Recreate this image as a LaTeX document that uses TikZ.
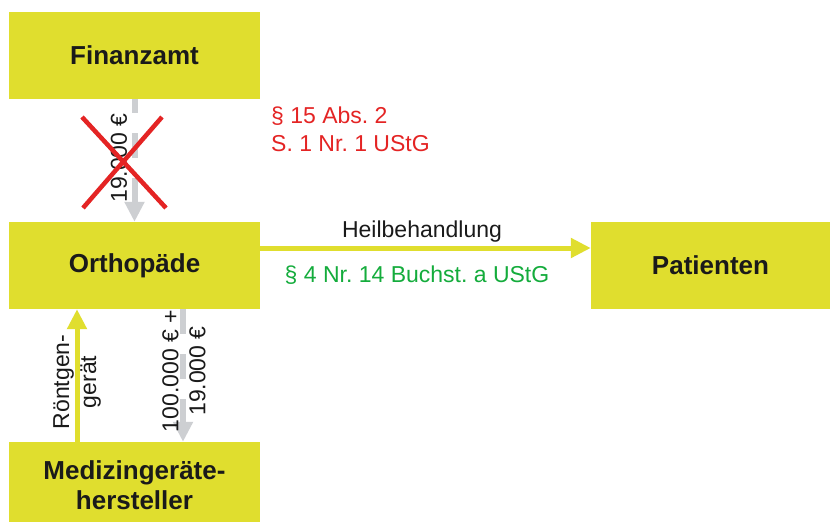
\documentclass[tikz,border=0pt]{standalone}
\usepackage{fontspec}
\setmainfont{Liberation Sans}
\usetikzlibrary{arrows.meta}
\frenchspacing
\definecolor{boxy}{RGB}{224,222,46}
\definecolor{arrgray}{RGB}{205,207,210}
\definecolor{lawred}{RGB}{228,36,36}
\definecolor{lawgreen}{RGB}{20,172,60}
\definecolor{txt}{RGB}{26,26,26}
\tikzset{
  party/.style={fill=boxy, draw=none, minimum width=251pt, minimum height=87pt, inner sep=0pt,
    font=\fontsize{26}{30}\selectfont\bfseries, text=txt, align=center},
  goods/.style={draw=boxy, line width=5pt, -{Triangle[length=20pt,width=19pt]}},
  money/.style={draw=arrgray, line width=6pt, dash pattern=on 25pt off 20pt, -{Triangle[length=20pt,width=19pt]}},
  lbl/.style={font=\fontsize{23}{27}\selectfont, text=txt, inner sep=0pt, align=center},
  cross/.style={draw=lawred, line width=4.5pt}
}
\begin{document}
\begin{tikzpicture}[x=1pt,y=-1pt]
\clip (0,0) rectangle (830,522);
\fill[white] (0,0) rectangle (830,522);
\node[party] (fa) at (134.5,55.5) {Finanzamt};
\node[party] (or) at (134.5,265.5) {Orthopäde};
\node[party, minimum width=239pt] (pa) at (710.5,265.5) {Patienten};
\node[party] (me) at (134.5,485.5) {Medizingeräte-\\hersteller};
% money from Finanzamt to Orthopaede (crossed out)
\draw[money, dash phase=11pt] (fa.south) -- (or.north);
\node[lbl, rotate=90] (v1) at (119,158) {19.000 €};
\coordinate (x1) at (82,117);
\coordinate (x2) at (166,208);
\coordinate (x3) at (162,117);
\coordinate (x4) at (83,208);
\draw[cross] (x1) -- (x2);
\draw[cross] (x3) -- (x4);
\node[anchor=west, font=\fontsize{23}{28}\selectfont, text=lawred, align=left, inner sep=0pt] (law1) at (271,129) {§ 15 Abs. 2\\S. 1 Nr. 1 UStG};
% Heilbehandlung
\draw[goods] (or.east |- 0,248) -- (pa.west |- 0,248);
\node[lbl] (hb) at (422,232) {Heilbehandlung};
\node[lbl, text=lawgreen] (law2) at (417,275) {§ 4 Nr. 14 Buchst. a UStG};
% Roentgengeraet
\draw[goods] (me.north -| 77,0) -- (or.south -| 77,0);
\node[lbl, rotate=90] (rg) at (77,382) {Röntgen-\\gerät};
% payment to Medizingeraetehersteller
\draw[money] (or.south -| 183,0) -- (me.north -| 183,0);
\node[lbl, rotate=90] (pay) at (184,371) {100.000 € +\\19.000 €};
\end{tikzpicture}
\end{document}
